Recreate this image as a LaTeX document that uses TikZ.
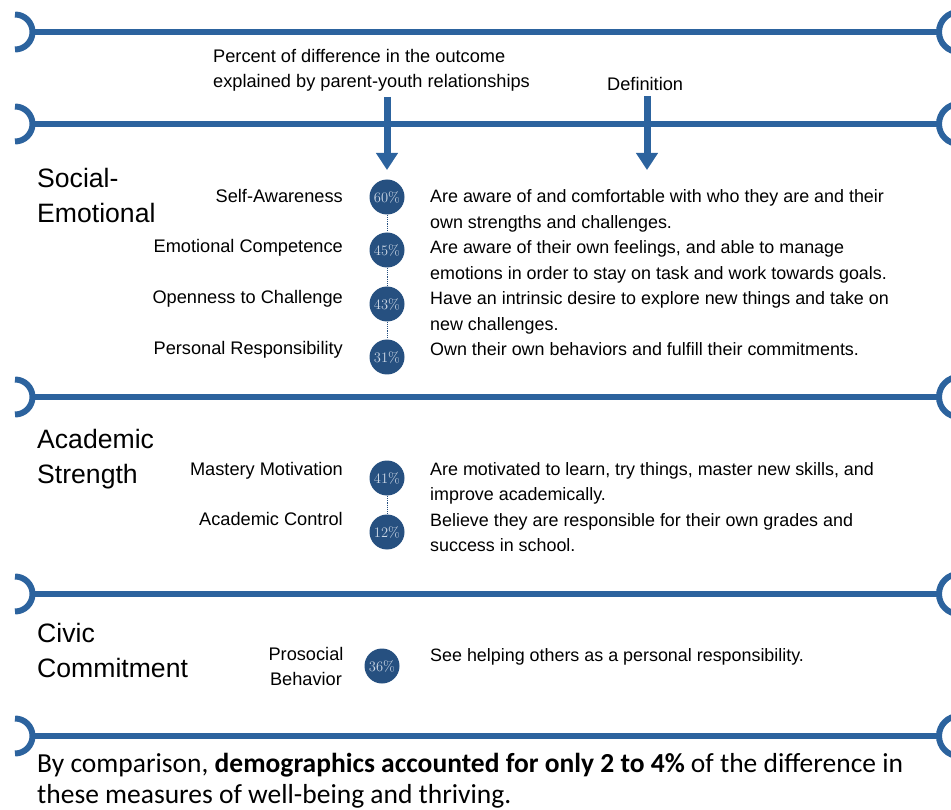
\documentclass[tikz,border=0pt]{standalone}
\usepackage{fontspec}
\newfontfamily\arialfont{Liberation Sans}
\newfontfamily\calibfont{Carlito}
\usepackage{tikz}
\usetikzlibrary{arrows.meta,positioning}
\definecolor{bandblue}{RGB}{44,99,158}
\definecolor{dotblue}{RGB}{38,80,128}
\definecolor{numtint}{RGB}{205,216,230}

\begin{document}
\begin{tikzpicture}[x=1pt,y=-1pt,
		band/.style={bandblue, line width=6pt},
		pointer/.style={bandblue, line width=7pt, -{Triangle[length=17pt,width=21pt]}},
		pct/.style={circle, fill=dotblue, minimum size=35pt, inner sep=0pt,
			text=numtint, font=\rmfamily\fontsize{14.5}{14.5}\selectfont},
		trait/.style={anchor=base east, align=right, inner sep=0pt,
			font=\arialfont\fontsize{18.2}{25}\selectfont},
		meaning/.style={anchor=base west, align=left, inner sep=0pt,
			font=\arialfont\fontsize{17.9}{25.5}\selectfont},
		area/.style={anchor=base west, align=left, inner sep=0pt,
			font=\arialfont\fontsize{26.6}{35}\selectfont},
		link/.style={dotblue, line width=0.8pt, dash pattern=on 1.2pt off 1pt}]
		\useasboundingbox (0,0) rectangle (951,810);
		\foreach \y in {32,124,397,594,736} {
			\draw[band] (15,\y) ++(90:17.5pt) arc[start angle=90, end angle=-90, radius=17.5pt];
			\draw[band] (32,\y) -- (940,\y);
			\draw[band] (959,\y) ++(90:20pt) arc[start angle=90, end angle=270, radius=20pt];
		}
		\node[meaning, font=\arialfont\fontsize{18.2}{25}\selectfont] (pcthead) at (213,88) {Percent of difference in the outcome\\explained by parent-youth relationships};
		\node[meaning, font=\arialfont\fontsize{18.2}{25}\selectfont] (defhead) at (607,91) {Definition};
		\coordinate (pcttip) at (387,170);
		\coordinate (deftip) at (647,170);
		\draw[pointer, shorten <=5pt] (pcthead.south -| pcttip) -- (pcttip);
		\draw[pointer, shorten <=5pt] (defhead.south -| deftip) -- (deftip);

		\node[area] (socemo) at (37,223) {Social-\\Emotional};
		\node[area] (acadstr) at (37,483) {Academic\\Strength};
		\node[area] (civcom) at (37,677) {Civic\\Commitment};

		\node[pct] (selfaw) at (387,197) {60\%};
		\node[pct] (emocomp) at (387,250) {45\%};
		\node[pct] (openness) at (387,304) {43\%};
		\node[pct] (persresp) at (387,357) {31\%};
		\node[pct] (mastery) at (387,478) {41\%};
		\node[pct] (acadctrl) at (387,532) {12\%};
		\node[pct] (prosoc) at (382,666) {36\%};
		\path[link]
		(selfaw) edge (emocomp)
		(emocomp) edge (openness)
		(openness) edge (persresp)
		(mastery) edge (acadctrl);

		\node[trait] (lselfaw) at (343,203) {Self-Awareness};
		\node[trait] (lemocomp) at (343,253) {Emotional Competence};
		\node[trait] (lopenness) at (343,304) {Openness to Challenge};
		\node[trait] (lpersresp) at (343,355) {Personal Responsibility};
		\node[trait] (lmastery) at (343,475) {Mastery Motivation};
		\node[trait] (lacadctrl) at (343,525) {Academic Control};
		\node[trait, anchor=base, align=center] (lprosoc) at (306,685) {Prosocial\\Behavior};

		\node[meaning] (dselfaw) at (430,228.5) {Are aware of and comfortable with who they are and their\\own strengths and challenges.};
		\node[meaning] (democomp) at (430,279.5) {Are aware of their own feelings, and able to manage\\emotions in order to stay on task and work towards goals.};
		\node[meaning] (dopenness) at (430,330.5) {Have an intrinsic desire to explore new things and take on\\new challenges.};
		\node[meaning] (dpersresp) at (430,356) {Own their own behaviors and fulfill their commitments.};
		\node[meaning] (dmastery) at (430,500.5) {Are motivated to learn, try things, master new skills, and\\improve academically.};
		\node[meaning] (dacadctrl) at (430,551.5) {Believe they are responsible for their own grades and\\success in school.};
		\node[meaning] (dprosoc) at (430,661) {See helping others as a personal responsibility.};

		\node[anchor=base west, align=left, inner sep=0pt, font=\calibfont\fontsize{27.5}{31}\selectfont] (summary) at (37,803)
		{By comparison, \textbf{demographics accounted for only 2 to 4\%} of the difference in\\these measures of well-being and thriving.};
\end{tikzpicture}
\end{document}
